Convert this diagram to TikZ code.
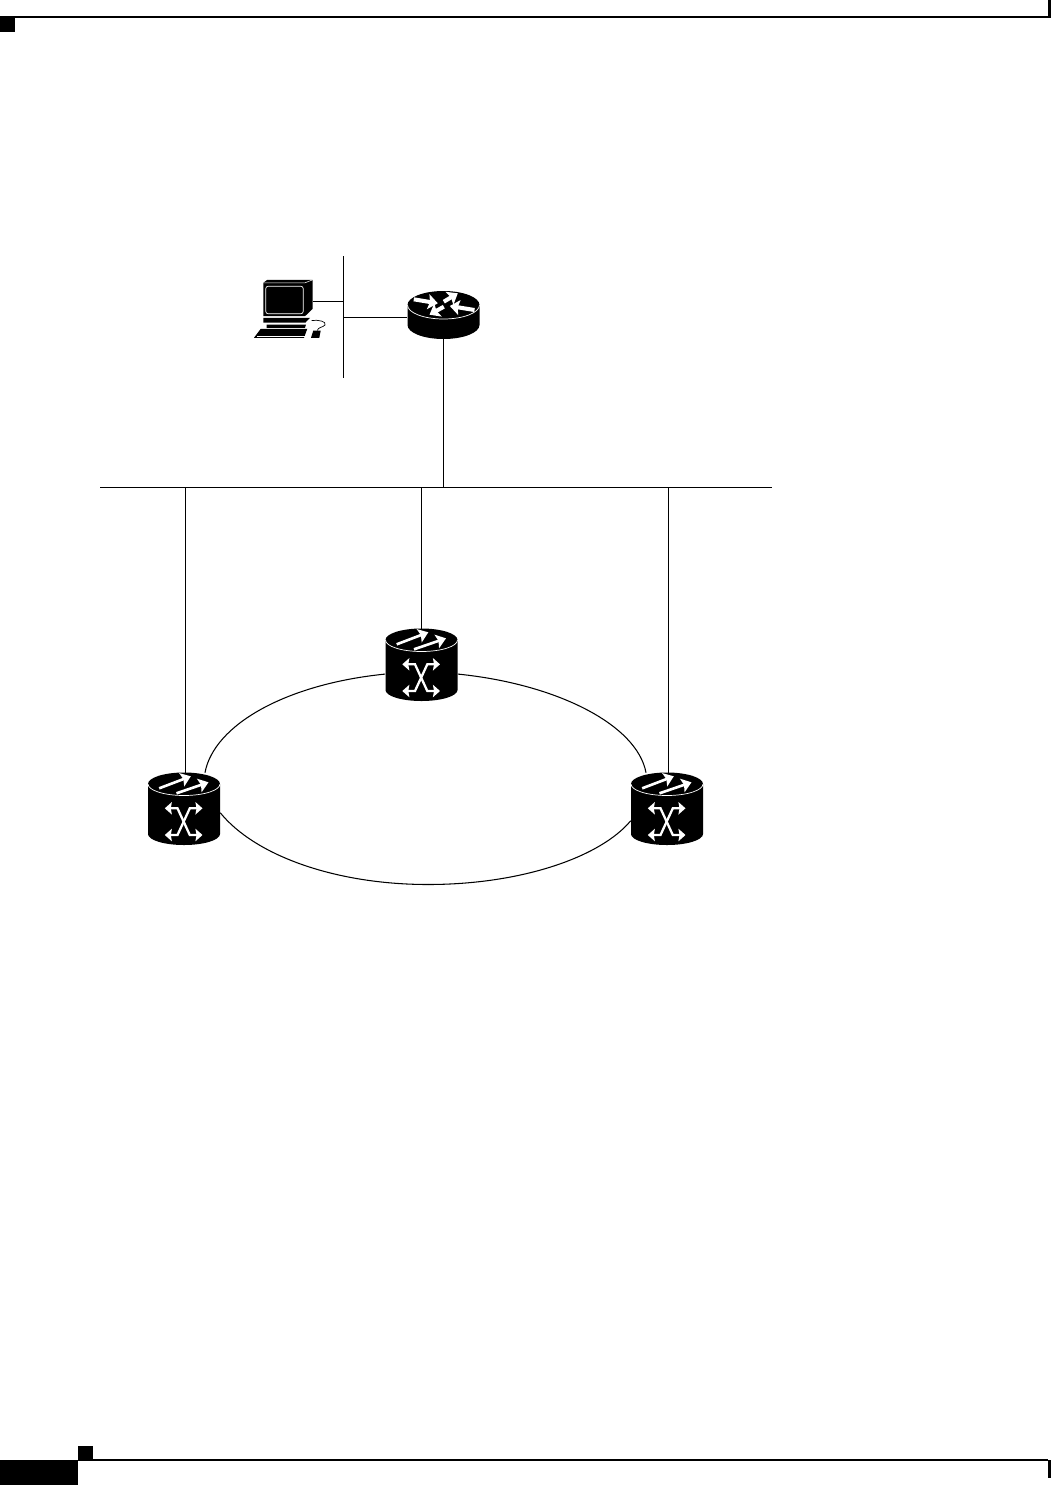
\documentclass[tikz,border=0pt]{standalone}
\usepackage{tikz}
\usetikzlibrary{arrows.meta}
\tikzset{
    wire/.style={black, line width=0.6pt},
    unit/.style={inner sep=0pt, minimum width=1.44cm, minimum height=1.44cm},
    whitearrow/.style={white, line width=1.5pt, -{Stealth[length=5.5pt,width=8pt,inset=1pt]}},
    fatarrow/.style={white, line width=2.3pt, -{Stealth[length=5.5pt,width=8.5pt,inset=1pt]}},
    crossarrow/.style={white, line width=1.3pt, {Stealth[length=4pt,width=7pt,inset=0.6pt]}-{Stealth[length=4pt,width=7pt,inset=0.6pt]}}
}
\begin{document}
\begin{tikzpicture}[x=0.02cm, y=0.02cm]
    \useasboundingbox (0,0) rectangle (1051,-1485);
    % page furniture
    \fill [black] (0,-17) rectangle (15,-32);
    \draw [black, line width=0.9pt] (0,-17) -- (1048,-17);
    \fill [black] (1047.5,0) rectangle (1051,-17.5);
    \fill [black] (0,-1460) rectangle (78,-1485);
    \fill [black] (78,-1446) rectangle (93,-1460);
    \draw [black, line width=0.9pt] (78,-1460) -- (1048,-1460);
    \fill [black] (1047.5,-1459.5) rectangle (1051,-1478);
    % units
    \node [inner sep=0pt, minimum width=1cm, minimum height=0.88cm] (pc) at (288,-301.5) {};
    \node [unit, minimum height=0.96cm] (router) at (443.5,-315) {};
    \node [unit] (swtop) at (421.5,-665) {};
    \node [unit] (swleft) at (184,-809) {};
    \node [unit] (swright) at (667,-809) {};
    \coordinate (lantop) at (343.5,-256);
    \coordinate (lanbottom) at (343.5,-378);
    \coordinate (lanpc) at (343.5,-301.5);
    \coordinate (lanrouter) at (343.5,-317.5);
    \coordinate (busleft) at (100,-487.5);
    \coordinate (busright) at (772,-487.5);
    \coordinate (busrouter) at (443.5,-487.5);
    \coordinate (busa) at (185.5,-487.5);
    \coordinate (busb) at (421.5,-487.5);
    \coordinate (busc) at (668.5,-487.5);
    \coordinate (ringbottom) at (428,-884.5);
    % connectors
    \draw [wire] (lantop) -- (lanbottom);
    \draw [wire] (pc.east) -- (lanpc);
    \draw [wire] (lanrouter) -- (router.west |- lanrouter);
    \draw [wire] (router.south) -- (busrouter);
    \draw [wire] (busleft) -- (busright);
    \draw [wire] (busa) -- (busa |- swleft.north);
    \draw [wire] (busb) -- (swtop.north);
    \draw [wire] (busc) -- (busc |- swright.north);
    \draw [wire] (swtop.194) .. controls +(-99,-10) and +(9,48) .. (swleft.60);
    \draw [wire] (swtop.-14) .. controls +(99,-10) and +(-9,48) .. (swright.120);
    \draw [wire] (swleft.-6) .. controls +(34,-42) and +(-94,0) .. (ringbottom);
    \draw [wire] (ringbottom) .. controls +(94,0) and +(-30,-36) .. (swright.198);
    % cross connects
    \foreach \nm in {swtop,swleft,swright} {
        \begin{scope}[shift={(\nm.center)}, yscale=-1]
            \fill [black] (-36,-25) -- (-36,25) arc (180:0:36 and 11) -- (36,-25) arc (0:-180:36 and 11.5) -- cycle;
            \draw [white, line width=0.4pt] (-36,-25) arc (180:0:36 and 11.5);
            \draw [whitearrow] (-24.8,-20.7) -- (6.8,-32.7);
            \draw [whitearrow] (-7.5,-15.7) -- (24.5,-26.7);
            \draw [crossarrow] (-19.2,-0.7) -- (-6.5,-0.7) -- (5.8,26) -- (18.5,26);
            \draw [crossarrow] (18.5,-0.7) -- (5.8,-0.7) -- (-6.5,26) -- (-19.2,26);
        \end{scope}
    }
    % router
    \begin{scope}[shift={(router.center)}, yscale=-1]
        \fill [black] (-36,-10) -- (-36,10) arc (180:0:36 and 14) -- (36,-10) arc (0:-180:36 and 14) -- cycle;
        \draw [white, line width=0.4pt] (-36,-10) arc (180:0:36 and 14);
        \draw [fatarrow] (-29.7,-15.7) -- (-5.7,-11.7);
        \draw [fatarrow] (31,-5) -- (6.3,-9);
        \draw [fatarrow] (0.3,-13.3) -- (14.3,-21.7);
        \draw [fatarrow] (0.3,-8.3) -- (-14,-0.3);
    \end{scope}
    % workstation
    \begin{scope}[shift={(pc.center)}, yscale=-1]
        \fill [black] (-24.7,-18.7) -- (-20.7,-21.7) -- (24.7,-21.7) -- (24.7,7.3) -- (17,14.7) -- (-24.7,14.7) -- cycle;
        \draw [white, line width=0.4pt, rounded corners=1.5pt] (-22.3,-15.3) rectangle (15.3,12.3);
        \draw [white, line width=0.3pt] (-24.7,-18.7) -- (17,-18.7) -- (24.7,-21.7);
        \fill [black] (-24.7,16.3) -- (22,16.3) -- (17.5,21) -- (-24.7,21) -- cycle;
        \fill [black] (-21.3,23) -- (18,23) -- (17,26.3) -- (-21.3,26.3) -- cycle;
        \fill [black] (-27.3,27.3) -- (19.3,27.3) -- (16,36.3) -- (-34,36.3) -- cycle;
        \draw [white, line width=0.3pt] (-31,34.3) -- (17,34.3);
        \fill [black] (25.3,29) -- (32.7,29) -- (31.3,36.3) -- (23,36.3) -- cycle;
        \draw [black, line width=0.4pt] (23.7,19) .. controls (30,18) and (39,20) .. (37,23.5) .. controls (35,26) and (30,25.5) .. (29.3,29);
    \end{scope}
\end{tikzpicture}
\end{document}
